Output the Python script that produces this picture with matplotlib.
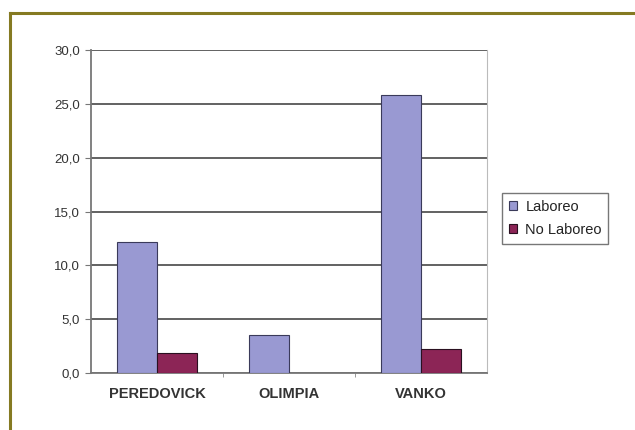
import matplotlib
matplotlib.use("Agg")
import matplotlib.pyplot as plt
import numpy as np
from matplotlib.lines import Line2D
from matplotlib.ticker import FuncFormatter

categories = ["PEREDOVICK", "OLIMPIA", "VANKO"]
laboreo = [12.2, 3.5, 25.8]
no_laboreo = [1.9, 0.0, 2.2]
series_names = ["Laboreo", "No Laboreo"]

plt.rcParams['font.family'] = ['Liberation Sans', 'DejaVu Sans']

W, H = 635, 430
fig = plt.figure(figsize=(W / 100, H / 100), dpi=100)
fig.patch.set_facecolor("white")

# olive frame
olive = "#857a22"
fig.add_artist(Line2D([9.5 / W, 1.0], [1 - 12.5 / H, 1 - 12.5 / H], color=olive, lw=2.2, transform=fig.transFigure))
fig.add_artist(Line2D([9.5 / W, 9.5 / W], [0, 1 - 12.5 / H], color=olive, lw=2.2, transform=fig.transFigure))

ax = fig.add_axes([91 / W, 57 / H, 396 / W, 323 / H])

x = np.arange(len(categories))
bw = 0.30
c1 = "#9999d2"
c2 = "#8c2556"
ax.bar(x - bw / 2, laboreo, bw, color=c1, edgecolor="#3a3a5a", lw=0.8, label=series_names[0], zorder=3)
nl = np.array(no_laboreo)
mask = nl > 0
ax.bar(x[mask] + bw / 2, nl[mask], bw, color=c2, edgecolor="#2a1020", lw=0.8, label=series_names[1], zorder=3)

ax.set_xlim(-0.5, 2.5)
ax.set_ylim(0, 30)
ax.set_yticks(np.arange(0, 31, 5))
ax.yaxis.set_major_formatter(FuncFormatter(lambda v, p: f"{v:.1f}".replace(".", ",")))
ax.grid(axis="y", color="#555555", lw=1.3, zorder=1)
ax.set_axisbelow(True)

ax.set_xticks(x)
ax.set_xticklabels(categories, fontsize=10.5, fontweight="bold", color="#333333")
ax.set_xticks([0.5, 1.5], minor=True)
ax.tick_params(axis="x", which="major", length=0, pad=10)
ax.tick_params(axis="x", which="minor", length=3, color="#888888", direction="out")
ax.tick_params(axis="y", length=4, color="#777777", labelsize=9.5, labelcolor="#333333", pad=4)

for s in ["left", "bottom"]:
    ax.spines[s].set_color("#777777")
    ax.spines[s].set_linewidth(1.3)
ax.spines["right"].set_color("#bbbbbb")
ax.spines["right"].set_linewidth(0.8)
ax.spines["top"].set_visible(False)

leg = fig.legend(loc="upper left", bbox_to_anchor=(502 / W, 1 - 193 / H), bbox_transform=fig.transFigure,
                 fontsize=10.5, frameon=True, fancybox=False, edgecolor="#555555",
                 handlelength=0.55, handleheight=0.55, handletextpad=0.6, borderpad=0.45,
                 labelspacing=0.65, borderaxespad=0)
leg.get_frame().set_linewidth(1.0)
for t in leg.get_texts():
    t.set_color("#222222")

fig.savefig("out.png", dpi=100, facecolor="white")
